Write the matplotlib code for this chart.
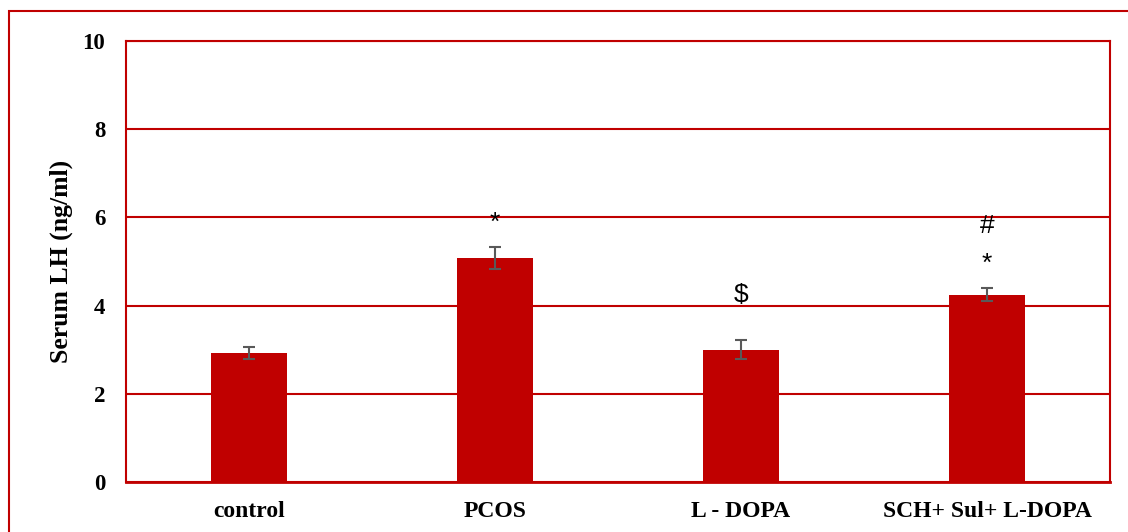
import matplotlib
matplotlib.use("Agg")
import matplotlib.pyplot as plt
from matplotlib.patches import Rectangle

categories = ["control", "PCOS", "L - DOPA", "SCH+ Sul+ L-DOPA"]
values = [2.92, 5.08, 3.00, 4.25]
errors = [0.14, 0.26, 0.21, 0.14]
marks = [[], [("*", 5.88)], [("$", 4.24)], [("*", 4.95), ("#", 5.81)]]
yticks = [0, 2, 4, 6, 8, 10]

RED = "#C00000"
W, H = 1128, 532
fig = plt.figure(figsize=(W / 100, H / 100), dpi=100)
ax = fig.add_axes([126 / W, 1 - 482 / H, (1110 - 126) / W, (482 - 41) / H])

x = list(range(len(categories)))
ax.bar(x, values, width=0.31, color=RED, zorder=3)
ax.errorbar(x, values, yerr=errors, fmt="none", ecolor="#595959",
            elinewidth=1.5, capsize=4.3, capthick=1.5, zorder=4)

for i, ms in enumerate(marks):
    for s, yv in ms:
        ax.text(i, yv, s, ha="center", va="center", fontsize=19,
                family="Liberation Sans", color="black", zorder=5)

ax.set_xlim(-0.5, len(categories) - 0.5)
ax.set_ylim(0, 10)
ax.set_yticks(yticks)
ax.set_yticklabels([str(t) for t in yticks])
ax.set_xticks(x)
ax.set_xticklabels(categories)
ax.yaxis.grid(True, color=RED, linewidth=1.5, zorder=0)
ax.set_axisbelow(True)
for sp in ax.spines.values():
    sp.set_color(RED)
    sp.set_linewidth(1.5)
ax.spines["bottom"].set_linewidth(2.0)
ax.tick_params(axis="both", length=0)
ax.tick_params(axis="y", pad=15)
ax.tick_params(axis="x", pad=14)
for lab in ax.get_yticklabels():
    lab.set_fontfamily("Liberation Serif")
    lab.set_fontweight("bold")
    lab.set_fontsize(16.5)
for lab in ax.get_xticklabels():
    lab.set_fontfamily("Liberation Serif")
    lab.set_fontweight("bold")
    lab.set_fontsize(17)
ax.set_ylabel("Serum LH (ng/ml)", fontfamily="Liberation Serif",
              fontweight="bold", fontsize=18.5, labelpad=7)

fig.patches.append(Rectangle((9 / W, -0.1), 1.2, 1 - 11 / H + 0.1,
                             transform=fig.transFigure, fill=False,
                             edgecolor=RED, linewidth=1.5))

fig.savefig("out.png", dpi=100)
